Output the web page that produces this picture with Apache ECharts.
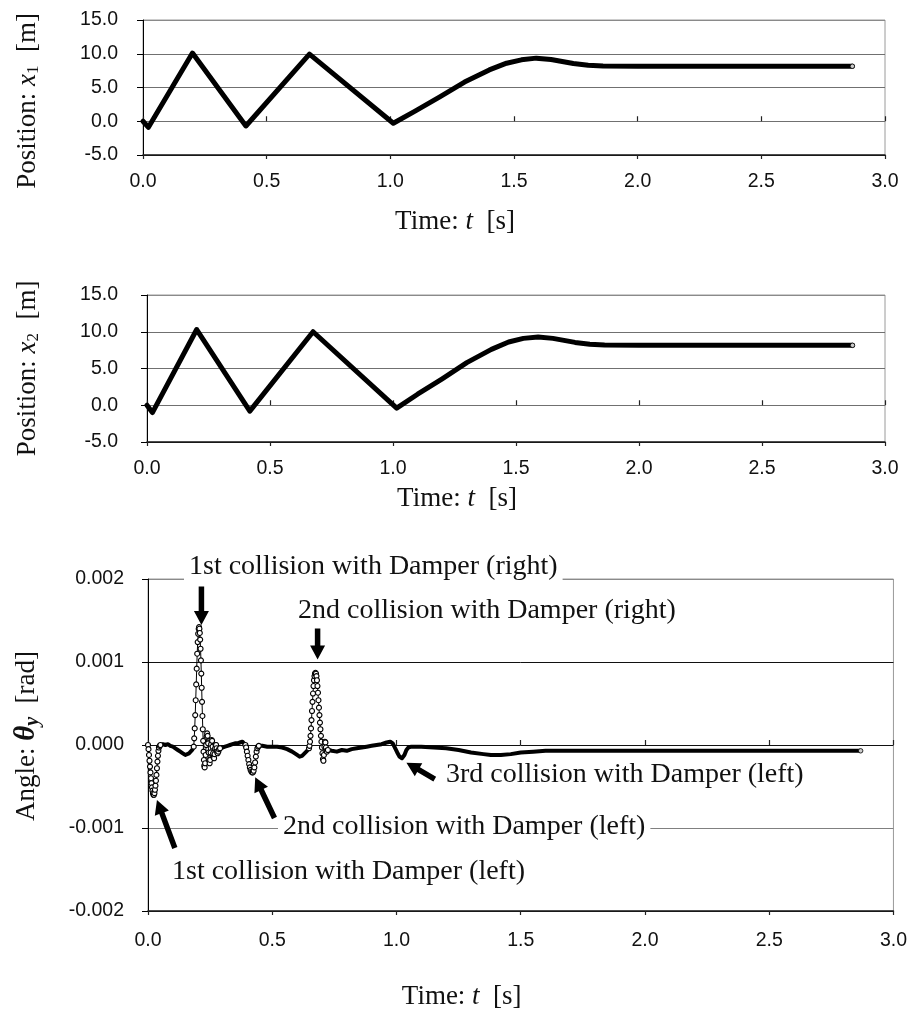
<!DOCTYPE html>
<html><head><meta charset="utf-8">
<script src="https://cdn.jsdelivr.net/npm/echarts@6/dist/echarts.min.js"></script>
<style>html,body{margin:0;padding:0;background:#fff}#c{width:910px;height:1021px}</style>
</head><body><div id="c"></div>
<script>
// ---- tick labels ----
const timeTicks = ['0.0','0.5','1.0','1.5','2.0','2.5','3.0'];
const posTicks = ['-5.0','0.0','5.0','10.0','15.0'];
const angleTicks = ['-0.002','-0.001','0.000','0.001','0.002'];

// ---- position x1 [m] ----
const x1Time = [0, 0.022, 0.20, 0.416, 0.673, 1.012, 1.10, 1.20, 1.30, 1.40, 1.47, 1.53, 1.59, 1.65, 1.74, 1.80, 1.86, 2.00, 2.868];
const x1Pos  = [0, -0.9, 10.1, -0.7, 9.95, -0.3, 1.5, 3.6, 5.8, 7.6, 8.6, 9.1, 9.35, 9.15, 8.55, 8.3, 8.2, 8.15, 8.15];
// ---- position x2 [m] ----
const x2Time = [0, 0.022, 0.202, 0.418, 0.675, 1.015, 1.10, 1.20, 1.30, 1.40, 1.47, 1.53, 1.59, 1.65, 1.74, 1.80, 1.86, 2.00, 2.868];
const x2Pos  = [0, -1.0, 10.3, -0.8, 10.0, -0.4, 1.5, 3.6, 5.8, 7.6, 8.6, 9.1, 9.3, 9.1, 8.55, 8.3, 8.2, 8.15, 8.15];

// ---- angle theta_y [rad]: quasi-static stretches (dense samples, read as a band) ----
const bandSeg1T = [0.050,0.060,0.070,0.080,0.090,0.100,0.110,0.120,0.130,0.140,0.150,0.158,0.165,0.172,0.178,0.184];
const bandSeg1V = [0,0.00001,0,0.00001,-0.00001,-0.00002,-0.00004,-0.00006,-0.00008,-0.00010,-0.00012,-0.00012,-0.00010,-0.00008,-0.00006,-0.00002];
const bandSeg2T = [0.290,0.300,0.310,0.320,0.330,0.340,0.350,0.360,0.370,0.380,0.387,0.392];
const bandSeg2V = [-0.00004,-0.00003,-0.00002,-0.00001,0,0.00001,0.00002,0.00002,0.00003,0.00004,0.00003,0];
const bandSeg3T = [0.446,0.460,0.480,0.500,0.520,0.540,0.560,0.580,0.600,0.610,0.620,0.630,0.640,0.648];
const bandSeg3V = [-0.00001,-0.00001,-0.00002,-0.00002,-0.00002,-0.00003,-0.00005,-0.00008,-0.00012,-0.00014,-0.00013,-0.00010,-0.00007,-0.00004];
const bandSeg4T = [0.724,0.740,0.760,0.780,0.800,0.820,0.840,0.860,0.880,0.900,0.920,0.940,0.960,0.975,0.985,0.995,1.003,1.012,1.022,1.032,1.040,1.048,1.060,1.100,1.150,1.200,1.250,1.300,1.350,1.380,1.420,1.460,1.500,1.550,1.600,1.800,2.000,2.400,2.868];
const bandSeg4V = [-0.00006,-0.00007,-0.00008,-0.00006,-0.00007,-0.00005,-0.00004,-0.00003,-0.00002,-0.00001,0,0.00001,0.00003,0.00004,0.00002,-0.00004,-0.00009,-0.00014,-0.00016,-0.00012,-0.00006,-0.00003,-0.00002,-0.00002,-0.00003,-0.00004,-0.00006,-0.00009,-0.00011,-0.00012,-0.00012,-0.00011,-0.00009,-0.00008,-0.00007,-0.00007,-0.00007,-0.00007,-0.00007];

// ---- angle theta_y [rad]: collision events (individual samples visible) ----
const hitLeft1T = [0.000,0.002,0.004,0.006,0.008,0.010,0.012,0.014,0.016,0.018,0.020,0.022,0.024,0.026,0.028,0.030,0.032,0.034,0.036,0.038,0.040,0.042,0.044,0.047,0.050];
const hitLeft1V = [0,-0.00005,-0.00012,-0.00019,-0.00026,-0.00033,-0.00040,-0.00046,-0.00051,-0.00055,-0.00058,-0.00060,-0.00060,-0.00058,-0.00054,-0.00049,-0.00043,-0.00036,-0.00028,-0.00020,-0.00013,-0.00007,-0.00003,-0.00001,0];
const hitRight1T = [0.184,0.186,0.188,0.190,0.192,0.194,0.196,0.198,0.200,0.202,0.204,0.2055,0.207,0.2085,0.210,0.2115,0.213,0.2145,0.216,0.2175,0.219,0.2205,0.222,0.2235,0.225,0.2265,0.228,0.230,0.232,0.234,0.236,0.238,0.240,0.242,0.244,0.246,0.248,0.250,0.252,0.254,0.256,0.258,0.260,0.262,0.264,0.266,0.268,0.270,0.272,0.274,0.276,0.278,0.280,0.283,0.286,0.290];
const hitRight1V = [-0.00002,0.00008,0.00020,0.00036,0.00054,0.00073,0.00092,0.00110,0.00124,0.00134,0.00140,0.00142,0.00140,0.00135,0.00127,0.00116,0.00102,0.00086,0.00069,0.00052,0.00035,0.00019,0.00005,-0.00008,-0.00018,-0.00025,-0.00027,-0.00022,-0.00012,0,0.00010,0.00014,0.00011,0.00002,-0.00009,-0.00018,-0.00022,-0.00018,-0.00009,0.00001,0.00006,0.00005,-0.00002,-0.00010,-0.00015,-0.00016,-0.00011,-0.00004,0,0,-0.00004,-0.00008,-0.00010,-0.00008,-0.00005,-0.00004];
const hitLeft2T = [0.392,0.395,0.398,0.401,0.404,0.407,0.410,0.413,0.416,0.419,0.422,0.425,0.428,0.431,0.434,0.437,0.440,0.443,0.446];
const hitLeft2V = [0,-0.00003,-0.00008,-0.00013,-0.00018,-0.00023,-0.00027,-0.00030,-0.00032,-0.00033,-0.00033,-0.00031,-0.00027,-0.00021,-0.00014,-0.00008,-0.00004,-0.00002,-0.00001];
const hitRight2T = [0.648,0.650,0.652,0.654,0.656,0.658,0.660,0.662,0.664,0.666,0.668,0.670,0.672,0.674,0.676,0.678,0.680,0.682,0.684,0.686,0.688,0.690,0.692,0.694,0.696,0.698,0.700,0.702,0.704,0.706,0.708,0.710,0.712,0.714,0.716,0.718,0.720,0.724];
const hitRight2V = [-0.00004,-0.00001,0.00004,0.00011,0.00020,0.00030,0.00041,0.00052,0.00062,0.00071,0.00078,0.00083,0.00086,0.00087,0.00086,0.00083,0.00078,0.00071,0.00063,0.00054,0.00045,0.00036,0.00027,0.00019,0.00011,0.00004,-0.00003,-0.00010,-0.00017,-0.00019,-0.00012,-0.00002,0.00004,0.00003,-0.00003,-0.00007,-0.00008,-0.00006];

// ---- annotation texts ----
const noteTexts = ['1st collision with Damper (right)','2nd collision with Damper (right)','3rd collision with Damper (left)','2nd collision with Damper (left)','1st collision with Damper (left)'];

// ---------- helpers ----------
const zip = (a, b) => a.map((t, i) => [t, b[i]]);
function joinSegs(segs) {
  const out = [];
  segs.forEach((s, k) => { if (k) out.push([s[0][0], null]); out.push(...s); });
  return out;
}
const num = s => parseFloat(s);

const SERIF = '"Liberation Serif","Times New Roman",serif';
const SANS = '"Liberation Sans",Arial,Helvetica,sans-serif';

const x1Data = zip(x1Time, x1Pos);
const x2Data = zip(x2Time, x2Pos);
const bandData = joinSegs([zip(bandSeg1T,bandSeg1V), zip(bandSeg2T,bandSeg2V), zip(bandSeg3T,bandSeg3V), zip(bandSeg4T,bandSeg4V)]);
const hitData = joinSegs([zip(hitLeft1T,hitLeft1V), zip(hitRight1T,hitRight1V), zip(hitLeft2T,hitLeft2V), zip(hitRight2T,hitRight2V)]);

const grids = [
  {left: 143, top: 20, width: 742, height: 135},
  {left: 147, top: 295, width: 738, height: 147},
  {left: 148, top: 579, width: 749, height: 332}
];
grids.forEach(g => { g.show = true; g.borderColor = '#9a9a9a'; g.borderWidth = 1; g.containLabel = false; });

function timeAxes(gi, labelMargin, nameGap) {
  const base = {
    type: 'value', gridIndex: gi,
    min: num(timeTicks[0]), max: num(timeTicks[timeTicks.length-1]),
    interval: num(timeTicks[1]) - num(timeTicks[0])
  };
  return [
    Object.assign({}, base, {
      position: 'bottom',
      axisLine: {show: true, onZero: false, lineStyle: {color: '#222', width: 1.5}},
      axisTick: {show: true, inside: false, length: 4, lineStyle: {color: '#222', width: 1.2}},
      axisLabel: {margin: labelMargin, fontFamily: SANS, fontSize: 19.5, color: '#111', formatter: v => v.toFixed(1)},
      splitLine: {show: false},
      name: 'Time: {i|t}  [s]', nameLocation: 'middle', nameGap: nameGap,
      nameTextStyle: {fontFamily: SERIF, fontSize: 27, color: '#111', padding: [0, 118, 0, 0],
        rich: {i: {fontFamily: SERIF, fontSize: 27, fontStyle: 'italic', color: '#111'}}}
    }),
    Object.assign({}, base, {
      position: 'bottom', show: true,
      axisLine: {show: false}, axisLabel: {show: false}, splitLine: {show: false},
      axisTick: {show: true, inside: true, length: 5, lineStyle: {color: '#222', width: 1.2}}
    })
  ];
}

function yAxisDef(gi, ticks, decimals, labelMargin, nameGap, nameText, rich, pad, splitColors) {
  return {
    type: 'value', gridIndex: gi,
    min: num(ticks[0]), max: num(ticks[ticks.length-1]), interval: num(ticks[1]) - num(ticks[0]),
    axisLine: {show: true, onZero: false, lineStyle: {color: '#000', width: 1}},
    axisTick: {show: true, inside: false, length: 6, lineStyle: {color: '#000'}},
    axisLabel: {margin: labelMargin, fontFamily: SANS, fontSize: 19.5, color: '#111', formatter: v => v.toFixed(decimals)},
    splitLine: {show: true, lineStyle: {color: splitColors, width: 1}},
    name: nameText, nameLocation: 'middle', nameRotate: 90, nameGap: nameGap,
    nameTextStyle: {fontFamily: SERIF, fontSize: 27, color: '#111', padding: pad, rich: rich}
  };
}

const posRich = () => ({
  i: {fontFamily: SERIF, fontSize: 27, fontStyle: 'italic', color: '#111'},
  sub: {fontFamily: SERIF, fontSize: 17, color: '#111', padding: [12, 0, 0, 0]}
});
const angleRich = {
  th: {fontFamily: SERIF, fontSize: 29, fontStyle: 'italic', fontWeight: 'bold', color: '#111'},
  sub: {fontFamily: SERIF, fontSize: 20, fontStyle: 'italic', fontWeight: 'bold', color: '#111', padding: [12, 0, 0, 0]}
};

const xAxes = [].concat(timeAxes(0, 17, 53), timeAxes(1, 17, 43), timeAxes(2, 20, 72));
const yAxes = [
  yAxisDef(0, posTicks, 1, 25, 101, 'Position: {i|x}{sub|1}  [m]', posRich(), [0, 27, 0, 0], ['#000','#707070','#707070','#707070','#8a8a8a']),
  yAxisDef(1, posTicks, 1, 29, 105, 'Position: {i|x}{sub|2}  [m]', posRich(), [0, 0, 0, 0], ['#000','#707070','#707070','#707070','#8a8a8a']),
  yAxisDef(2, angleTicks, 3, 24, 105, 'Angle: {th|θ}{sub|y}  [rad]', angleRich, [0, 0, 0, 18], ['#000','#808080','#111','#111','#8a8a8a'])
];

const lastOf = d => [d[d.length-1]];
const endMarker = (xi, yi, d) => ({
  type: 'scatter', xAxisIndex: xi, yAxisIndex: yi, data: lastOf(d), symbol: 'circle', symbolSize: 4.5,
  itemStyle: {color: '#fff', borderColor: '#000', borderWidth: 1}, z: 6, silent: true
});

const series = [
  {name: 'x1', type: 'line', xAxisIndex: 0, yAxisIndex: 0, data: x1Data, showSymbol: false, symbol: 'none',
   lineStyle: {color: '#000', width: 5, cap: 'round', join: 'round'}, z: 3},
  endMarker(0, 0, x1Data),
  {name: 'x2', type: 'line', xAxisIndex: 2, yAxisIndex: 1, data: x2Data, showSymbol: false, symbol: 'none',
   lineStyle: {color: '#000', width: 5, cap: 'round', join: 'round'}, z: 3},
  endMarker(2, 1, x2Data),
  {name: 'theta band', type: 'line', xAxisIndex: 4, yAxisIndex: 2, data: bandData, showSymbol: false, symbol: 'none',
   connectNulls: false, lineStyle: {color: '#000', width: 4, cap: 'round', join: 'round'}, z: 3},
  {name: 'theta hits', type: 'line', xAxisIndex: 4, yAxisIndex: 2, data: hitData, connectNulls: false,
   symbol: 'circle', symbolSize: 5, showSymbol: true, showAllSymbol: true,
   itemStyle: {color: '#fff', borderColor: '#000', borderWidth: 1.1},
   lineStyle: {color: '#000', width: 1}, z: 4},
  endMarker(4, 2, bandData)
];

const chart = echarts.init(document.getElementById('c'), null, {renderer: 'canvas'});
chart.setOption({
  animation: false,
  backgroundColor: '#fff',
  grid: grids, xAxis: xAxes, yAxis: yAxes, series: series
});

// ---------- annotations (arrows anchored in data space) ----------
const arrowTailT = [0.215, 0.6825, 1.154, 0.509, 0.108];
const arrowTailV = [0.00191, 0.001405, -0.00041, -0.00088, -0.00124];
const arrowTipT  = [0.215, 0.6825, 1.040, 0.4315, 0.036];
const arrowTipV  = [0.001445, 0.00103, -0.000213, -0.00039, -0.000663];

function arrowPoly(p0, p1, sw, hw, hl) {
  const dx = p1[0]-p0[0], dy = p1[1]-p0[1], L = Math.hypot(dx, dy);
  const ux = dx/L, uy = dy/L, nx = -uy, ny = ux;
  const bx = p1[0]-ux*hl, by = p1[1]-uy*hl;
  return [
    [p0[0]+nx*sw/2, p0[1]+ny*sw/2], [bx+nx*sw/2, by+ny*sw/2], [bx+nx*hw/2, by+ny*hw/2],
    [p1[0], p1[1]],
    [bx-nx*hw/2, by-ny*hw/2], [bx-nx*sw/2, by-ny*sw/2], [p0[0]-nx*sw/2, p0[1]-ny*sw/2]
  ];
}
const finder = {xAxisIndex: 4, yAxisIndex: 2};
const graphics = [];
arrowTailT.forEach((t, i) => {
  const p0 = chart.convertToPixel(finder, [t, arrowTailV[i]]);
  const p1 = chart.convertToPixel(finder, [arrowTipT[i], arrowTipV[i]]);
  graphics.push({type: 'polygon', shape: {points: arrowPoly(p0, p1, 5.5, 15, 14)}, style: {fill: '#000'}, z: 20, silent: true});
});
const notePos = [[184, 567, true], [298, 611, false], [446, 775, false], [278, 827, true], [172, 872, false]];
noteTexts.forEach((txt, i) => {
  const [x, y, bg] = notePos[i];
  graphics.push({type: 'text', x: x, y: y, z: 30, silent: true,
    style: {text: txt, font: '28px ' + SERIF, fill: '#111', align: 'left', verticalAlign: 'middle',
      backgroundColor: bg ? '#fff' : 'transparent', padding: bg ? [0, 5, 0, 5] : 0}});
});
chart.setOption({graphic: graphics});
</script>
</body></html>
